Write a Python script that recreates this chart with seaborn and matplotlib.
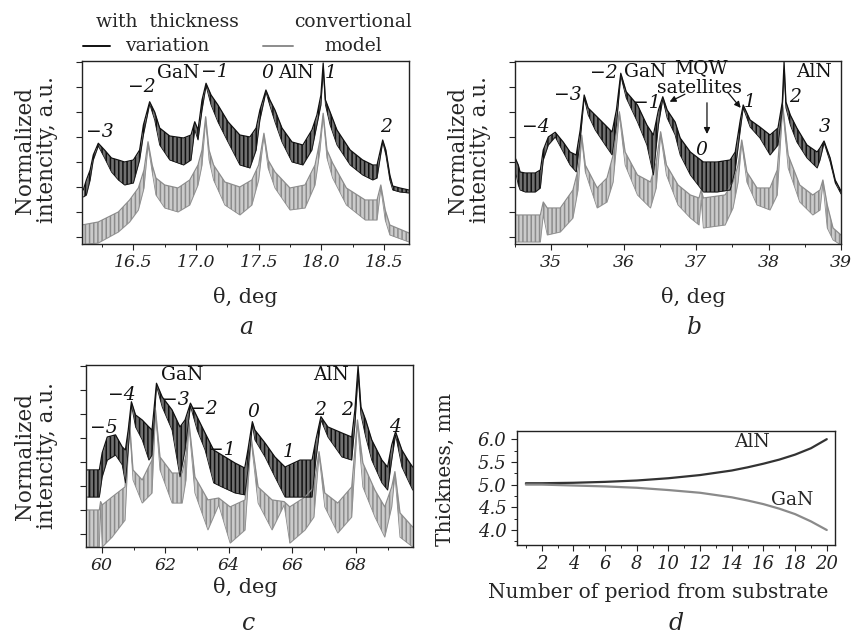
import matplotlib
matplotlib.use("Agg")
import matplotlib.pyplot as plt
import seaborn as sns
from matplotlib.lines import Line2D
from matplotlib.ticker import MultipleLocator, FormatStrFormatter

sns.set_theme(style="ticks")
plt.rcParams.update({
    'font.family': ['DejaVu Serif'],
    'axes.edgecolor': '#222222',
    'axes.linewidth': 1.0,
    'xtick.color': '#222222',
    'ytick.color': '#222222',
    'hatch.linewidth': 1.1,
})

BLACK = '#111111'
GREY = '#8c8c8c'

# ---- panel a: theta 16-18.7 deg (upper / lower edge of the fringe band) ----
a_theta_k = [16.10, 16.125, 16.155, 16.18, 16.22, 16.27, 16.325, 16.38, 16.43, 16.50, 16.55, 16.58,
             16.63, 16.67, 16.71, 16.79, 16.90, 16.96, 16.99, 17.016, 17.048, 17.08, 17.12, 17.175,
             17.255, 17.35, 17.43, 17.48, 17.51, 17.558, 17.59, 17.63, 17.686, 17.766, 17.853, 17.925,
             17.965, 17.997, 18.015, 18.033, 18.07, 18.125, 18.23, 18.33, 18.41, 18.445, 18.49, 18.515,
             18.547, 18.57, 18.627, 18.70]
a_hi_k = [1.88, 2.28, 2.68, 3.28, 3.75, 3.48, 3.16, 3.08, 3.00, 3.08, 3.48, 4.48,
          5.41, 5.00, 4.36, 4.04, 3.96, 4.08, 4.61, 4.28, 5.48, 6.15, 5.68, 5.28,
          4.61, 4.08, 4.00, 4.36, 5.08, 5.88, 5.48, 5.08, 4.36, 3.80, 3.68, 4.28,
          4.88, 5.68, 6.96, 5.48, 5.00, 4.28, 3.48, 3.08, 2.88, 2.88, 3.88, 3.48,
          2.48, 2.04, 1.96, 1.88]
a_lo_k = [1.60, 1.68, 2.28, 3.08, 3.64, 3.16, 2.60, 2.28, 2.08, 2.16, 3.08, 4.08,
          5.32, 4.68, 3.68, 3.08, 2.88, 3.08, 4.28, 3.88, 5.08, 6.04, 5.28, 4.60,
          3.80, 2.88, 2.76, 3.48, 4.68, 5.80, 5.24, 4.60, 3.80, 3.00, 2.88, 3.48,
          4.48, 5.28, 6.68, 5.28, 4.48, 3.68, 2.88, 2.48, 2.28, 2.36, 3.80, 3.28,
          2.28, 1.88, 1.80, 1.76]

a_theta_g = [16.09, 16.22, 16.38, 16.47, 16.54, 16.585, 16.617, 16.65, 16.68, 16.75, 16.856, 16.95,
             17.016, 17.048, 17.077, 17.104, 17.14, 17.23, 17.35, 17.446, 17.50, 17.542, 17.575, 17.63,
             17.75, 17.87, 17.95, 17.99, 18.015, 18.045, 18.09, 18.20, 18.35, 18.445, 18.475, 18.51,
             18.547, 18.70]
a_hi_g = [0.48, 0.60, 1.00, 1.48, 1.96, 2.68, 3.81, 2.88, 2.36, 2.08, 1.96, 2.28,
          2.88, 3.48, 4.81, 3.48, 2.88, 2.20, 2.00, 2.28, 2.88, 4.15, 3.08, 2.60,
          1.96, 2.08, 2.88, 3.88, 4.95, 3.48, 2.96, 1.96, 1.48, 1.48, 2.08, 1.08,
          0.48, 0.16]
a_lo_g = [-0.30, -0.24, 0.20, 0.60, 1.08, 1.96, 3.68, 2.60, 1.68, 1.16, 1.00, 1.28,
          2.08, 2.88, 4.68, 3.08, 2.28, 1.28, 0.88, 1.28, 2.28, 4.04, 2.76, 1.96,
          1.08, 1.16, 2.08, 3.48, 4.84, 3.16, 2.36, 1.28, 0.68, 0.68, 1.96, 0.68,
          0.08, -0.20]

# ---- panel b: theta 34.5-39 deg ----
b_theta_k = [34.503, 34.545, 34.57, 34.64, 34.78, 34.85, 34.89, 34.96, 35.055, 35.165, 35.26, 35.345,
             35.40, 35.455, 35.51, 35.607, 35.745, 35.84, 35.90, 35.96, 36.035, 36.19, 36.32, 36.41,
             36.48, 36.54, 36.60, 36.71, 36.78, 36.92, 37.10, 37.29, 37.47, 37.54, 37.61, 37.65,
             37.745, 37.88, 38.02, 38.13, 38.19, 38.214, 38.24, 38.30, 38.39, 38.53, 38.67, 38.71,
             38.766, 38.85, 38.92, 39.0]
b_hi_k = [3.16, 2.88, 2.60, 2.56, 2.56, 2.68, 3.48, 4.00, 4.19, 3.80, 3.40, 3.28,
          4.28, 5.68, 5.16, 4.88, 4.48, 4.20, 5.08, 6.55, 5.81, 5.28, 4.48, 4.08,
          5.08, 5.61, 5.08, 4.60, 3.96, 3.40, 3.00, 3.00, 3.08, 3.40, 4.68, 5.28,
          4.68, 4.40, 4.08, 4.36, 5.40, 7.00, 5.40, 4.88, 4.36, 3.68, 3.40, 3.56,
          3.84, 3.16, 2.28, 1.84]
b_lo_k = [2.68, 2.08, 1.88, 1.80, 1.80, 1.96, 3.08, 3.68, 4.00, 3.40, 2.88, 2.60,
          3.88, 5.56, 4.88, 4.28, 3.68, 3.28, 4.48, 6.44, 5.56, 4.60, 3.68, 2.48,
          4.48, 5.52, 4.76, 4.08, 3.28, 2.48, 1.80, 1.80, 1.88, 2.68, 4.28, 5.16,
          4.40, 3.96, 3.28, 3.68, 5.08, 6.68, 5.16, 4.48, 3.80, 3.16, 2.76, 3.08,
          3.76, 3.00, 2.16, 1.72]

b_theta_g = [34.503, 34.85, 34.89, 34.945, 35.125, 35.30, 35.37, 35.42, 35.47, 35.634, 35.77, 35.855,
             35.94, 36.02, 36.19, 36.37, 36.45, 36.51, 36.59, 36.75, 36.92, 37.04, 37.07, 37.10,
             37.40, 37.51, 37.58, 37.63, 37.70, 37.84, 38.02, 38.12, 38.195, 38.27, 38.43, 38.61,
             38.71, 38.75, 38.81, 38.89, 39.0]
b_hi_g = [0.88, 0.88, 1.40, 1.16, 1.16, 1.88, 2.68, 4.08, 2.88, 1.96, 2.36, 3.28,
          5.01, 3.40, 2.48, 2.20, 3.00, 4.21, 2.88, 2.08, 1.68, 1.56, 1.88, 1.56,
          1.68, 2.20, 2.88, 3.88, 2.60, 1.96, 1.96, 2.68, 5.28, 3.28, 2.08, 1.68,
          1.88, 2.28, 1.28, 0.36, 0.08]
b_lo_g = [-0.20, -0.20, 0.88, 0.08, 0.20, 0.76, 1.88, 3.96, 2.60, 1.16, 1.40, 2.20,
          4.88, 2.88, 1.68, 1.16, 1.96, 4.08, 2.48, 1.28, 0.76, 0.48, 1.48, 0.36,
          0.48, 1.16, 2.20, 3.76, 2.20, 1.28, 1.08, 1.68, 5.16, 2.76, 1.40, 0.88,
          1.08, 2.16, 0.36, -0.12, -0.32]

# ---- panel c: theta 59.5-69.8 deg ----
c_theta_k = [59.54, 59.92, 60.01, 60.17, 60.43, 60.64, 60.74, 60.83, 60.93, 61.06, 61.27, 61.48,
             61.58, 61.72, 61.90, 62.21, 62.46, 62.62, 62.79, 63.00, 63.25, 63.52, 63.78, 64.19,
             64.50, 64.60, 64.74, 64.82, 65.14, 65.45, 65.77, 66.24, 66.62, 66.74, 66.90, 67.12,
             67.56, 67.87, 67.97, 68.07, 68.16, 68.31, 68.50, 68.82, 69.00, 69.13, 69.25, 69.45,
             69.64, 69.79]
c_hi_k = [2.67, 2.67, 3.38, 4.04, 4.13, 3.63, 3.50, 4.33, 5.51, 4.96, 4.75, 4.46,
          4.33, 6.28, 5.71, 5.17, 4.46, 4.75, 5.45, 4.88, 4.21, 3.50, 3.29, 2.96,
          2.75, 3.50, 4.68, 4.33, 3.79, 3.21, 2.79, 3.08, 3.08, 3.92, 4.89, 4.46,
          4.21, 4.04, 5.17, 7.00, 5.29, 4.75, 3.92, 3.08, 2.79, 3.71, 4.26, 3.50,
          3.08, 2.79]
c_lo_k = [1.54, 1.54, 2.38, 3.08, 3.29, 2.88, 2.13, 3.50, 5.38, 4.46, 3.92, 3.08,
          3.29, 6.17, 5.29, 4.33, 2.38, 3.50, 5.33, 4.33, 3.50, 2.13, 1.96, 1.71,
          1.63, 2.67, 4.54, 3.92, 3.21, 2.38, 1.54, 1.54, 1.54, 3.08, 4.75, 4.04,
          3.21, 3.08, 4.54, 6.63, 4.96, 4.04, 3.08, 2.13, 1.83, 3.08, 4.13, 2.79,
          2.25, 1.83]

c_theta_g = [59.54, 59.92, 59.96, 60.01, 60.32, 60.73, 60.87, 60.98, 61.27, 61.58, 61.69, 61.83,
             62.21, 62.53, 62.65, 62.74, 62.93, 63.34, 63.68, 64.04, 64.51, 64.70, 64.92, 65.36,
             65.74, 65.92, 66.40, 66.68, 66.84, 67.02, 67.43, 67.87, 68.05, 68.22, 68.60, 68.91,
             69.13, 69.23, 69.39, 69.79]
c_hi_g = [1.00, 1.00, 1.35, 1.21, 1.54, 1.96, 4.68, 2.67, 2.25, 3.08, 5.17, 3.21,
          2.54, 2.54, 3.29, 4.68, 2.38, 1.42, 1.50, 1.13, 1.42, 4.05, 1.96, 1.42,
          1.35, 1.13, 1.54, 1.96, 3.43, 1.71, 1.29, 1.96, 4.75, 2.96, 1.83, 1.13,
          1.96, 2.60, 0.88, 0.29]
c_lo_g = [-0.54, -0.54, 1.21, -0.54, -0.13, 0.58, 4.54, 2.25, 1.29, 1.71, 5.04, 2.67,
          1.29, 1.29, 2.25, 4.54, 1.71, 0.17, 1.21, -0.38, 0.17, 3.92, 1.29, 0.17,
          1.21, -0.38, 0.17, 0.71, 3.29, 1.13, 0.04, 0.71, 4.63, 1.96, 0.71, -0.13,
          1.13, 2.46, -0.13, -0.54]

# ---- panel d: layer thickness vs period number ----
d_period = [1, 2, 4, 6, 8, 10, 12, 14, 15, 16, 17, 18, 19, 20]
d_aln = [5.03, 5.03, 5.04, 5.06, 5.09, 5.14, 5.21, 5.31, 5.38, 5.46, 5.55, 5.66, 5.80, 6.00]
d_gan = [5.00, 5.00, 4.98, 4.96, 4.93, 4.88, 4.82, 4.72, 4.65, 4.57, 4.47, 4.35, 4.19, 4.00]

# peak labels: (text, theta, y, italic)
a_labels = [("\u22123", 16.235, 4.2, True), ("\u22122", 16.567, 6.0, True), ("GaN", 16.856, 6.55, False),
            ("\u22121", 17.15, 6.6, True), ("0", 17.566, 6.55, True), ("AlN", 17.80, 6.55, False),
            ("1", 18.075, 6.55, True), ("2", 18.515, 4.41, True)]
b_labels = [("\u22124", 34.79, 4.41, True), ("\u22123", 35.23, 5.68, True), ("\u22122", 35.73, 6.55, True),
            ("GaN", 36.30, 6.6, False), ("MQW", 37.06, 6.77, False), ("satellites", 37.05, 5.95, False),
            ("\u22121", 36.32, 5.35, True), ("1", 37.745, 5.41, True), ("0", 37.07, 3.48, True),
            ("AlN", 38.63, 6.6, False), ("2", 38.37, 5.61, True), ("3", 38.78, 4.41, True)]
c_labels = [("\u22125", 60.05, 4.4, True), ("\u22124", 60.63, 5.79, True), ("GaN", 62.52, 6.63, False),
            ("\u22123", 62.33, 5.58, True), ("\u22122", 63.22, 5.2, True), ("\u22121", 63.77, 3.5, True),
            ("0", 64.77, 5.1, True), ("1", 65.87, 3.43, True), ("AlN", 67.23, 6.63, False),
            ("2", 66.87, 5.17, True), ("2", 67.71, 5.17, True), ("4", 69.23, 4.47, True)]

W, H = 855, 635
fig = plt.figure(figsize=(W / 100, H / 100), dpi=100)


def px_axes(l, t, r, b):
    return fig.add_axes([l / W, 1 - b / H, (r - l) / W, (b - t) / H])


def fx(x):
    return x / W


def fy(y):
    return 1 - y / H


def draw_band(ax, theta, hi, lo, color, alpha):
    # band between fringe minima and maxima; vertical hatch mimics the fringes
    ax.fill_between(theta, lo, hi, facecolor=color, alpha=alpha, lw=0)
    ax.fill_between(theta, lo, hi, facecolor='none', edgecolor=color, hatch='||||', lw=0)
    sns.lineplot(x=theta, y=hi, ax=ax, color=color, lw=0.9, estimator=None, sort=False)
    sns.lineplot(x=theta, y=lo, ax=ax, color=color, lw=0.6, estimator=None, sort=False)


def style_spectrum(ax, xlim, ylim, major, minor, fmt):
    ax.set_xlim(*xlim)
    ax.set_ylim(*ylim)
    ax.set_yticks(range(0, 8))
    ax.set_yticklabels([])
    ax.xaxis.set_major_locator(MultipleLocator(major))
    ax.xaxis.set_minor_locator(MultipleLocator(minor))
    ax.xaxis.set_major_formatter(FormatStrFormatter(fmt))
    ax.tick_params(axis='both', which='major', direction='out', length=4, width=0.8,
                   labelsize=12.5, top=False, right=False)
    ax.tick_params(axis='x', which='minor', direction='out', length=2.5, width=0.7)
    for lab in ax.get_xticklabels():
        lab.set_fontstyle('italic')
    for s in ax.spines.values():
        s.set_visible(True)
    ax.set_xlabel('')
    ax.set_ylabel('')


def put_labels(ax, labels):
    for txt, x, y, it in labels:
        ax.text(x, y, txt, ha='center', va='center', fontsize=13.5,
                fontstyle='italic' if it else 'normal', color=BLACK)


# panel a
ax_a = px_axes(82, 61, 409, 244)
draw_band(ax_a, a_theta_g, a_hi_g, a_lo_g, GREY, 0.45)
draw_band(ax_a, a_theta_k, a_hi_k, a_lo_k, BLACK, 0.6)
style_spectrum(ax_a, (16.09, 18.70), (-0.28, 7.04), 0.5, 0.25, '%.1f')
put_labels(ax_a, a_labels)

# panel b
ax_b = px_axes(515, 61, 841, 244)
draw_band(ax_b, b_theta_g, b_hi_g, b_lo_g, GREY, 0.45)
draw_band(ax_b, b_theta_k, b_hi_k, b_lo_k, BLACK, 0.6)
style_spectrum(ax_b, (34.5, 39.0), (-0.28, 7.04), 1, 0.5, '%d')
put_labels(ax_b, b_labels)
arrow = dict(arrowstyle='-|>', color=BLACK, lw=0.9, mutation_scale=9)
ax_b.annotate('', xy=(36.60, 5.36), xytext=(36.88, 5.76), arrowprops=arrow)
ax_b.annotate('', xy=(37.15, 4.01), xytext=(37.15, 5.48), arrowprops=arrow)
ax_b.annotate('', xy=(37.64, 5.08), xytext=(37.41, 5.88), arrowprops=arrow)

# panel c
ax_c = px_axes(86, 365, 413, 547)
draw_band(ax_c, c_theta_g, c_hi_g, c_lo_g, GREY, 0.45)
draw_band(ax_c, c_theta_k, c_hi_k, c_lo_k, BLACK, 0.6)
style_spectrum(ax_c, (59.5, 69.8), (-0.54, 7.04), 2, 1, '%d')
put_labels(ax_c, c_labels)

# panel d
ax_d = px_axes(517, 431, 835, 545)
sns.lineplot(x=d_period, y=d_aln, ax=ax_d, color='#333333', lw=1.6)
sns.lineplot(x=d_period, y=d_gan, ax=ax_d, color='#8a8a8a', lw=1.6)
ax_d.set_xlim(0.44, 20.52)
ax_d.set_ylim(3.67, 6.18)
ax_d.xaxis.set_major_locator(MultipleLocator(2))
ax_d.xaxis.set_minor_locator(MultipleLocator(1))
ax_d.yaxis.set_major_locator(MultipleLocator(0.5))
ax_d.yaxis.set_minor_locator(MultipleLocator(0.25))
ax_d.yaxis.set_major_formatter(FormatStrFormatter('%.1f'))
ax_d.xaxis.set_major_formatter(FormatStrFormatter('%d'))
ax_d.tick_params(which='major', direction='out', length=4, width=0.8, labelsize=13)
ax_d.tick_params(which='minor', direction='out', length=2.5, width=0.7)
for lab in ax_d.get_xticklabels() + ax_d.get_yticklabels():
    lab.set_fontstyle('italic')
ax_d.set_xlabel('')
ax_d.set_ylabel('')
ax_d.text(15.3, 5.93, 'AlN', ha='center', va='center', fontsize=13.5)
ax_d.text(17.8, 4.65, 'GaN', ha='center', va='center', fontsize=13.5)

# axis titles and panel letters
ylab = 'Normalized\nintencity, a.u.'
for x, y in [(36, 150), (469, 150), (36, 456)]:
    fig.text(fx(x), fy(y), ylab, rotation=90, ha='center', va='center', fontsize=15.5, linespacing=1.05)
fig.text(fx(445), fy(470), 'Thickness, mm', rotation=90, ha='center', va='center', fontsize=14.5)
fig.text(fx(245), fy(297), '\u03b8, deg', ha='center', va='center', fontsize=15)
fig.text(fx(693), fy(297), '\u03b8, deg', ha='center', va='center', fontsize=15)
fig.text(fx(245), fy(587), '\u03b8, deg', ha='center', va='center', fontsize=15)
fig.text(fx(658), fy(592), 'Number of period from substrate', ha='center', va='center', fontsize=14.5)
for letter, x, y in [('a', 246, 328), ('b', 695, 328), ('c', 249, 624), ('d', 676, 624)]:
    fig.text(fx(x), fy(y), letter, ha='center', va='center', fontsize=17, fontstyle='italic')

# legend at the top
fig.text(fx(167), fy(22), 'with  thickness', ha='center', va='center', fontsize=13.5)
fig.text(fx(167), fy(46), 'variation', ha='center', va='center', fontsize=13.5)
fig.text(fx(353), fy(22), 'convertional', ha='center', va='center', fontsize=13.5)
fig.text(fx(353), fy(46), 'model', ha='center', va='center', fontsize=13.5)
fig.add_artist(Line2D([fx(83), fx(110)], [fy(46), fy(46)], color=BLACK, lw=1.4))
fig.add_artist(Line2D([fx(263), fx(293)], [fy(46), fy(46)], color=GREY, lw=1.4))

fig.savefig('out.png', dpi=100)
